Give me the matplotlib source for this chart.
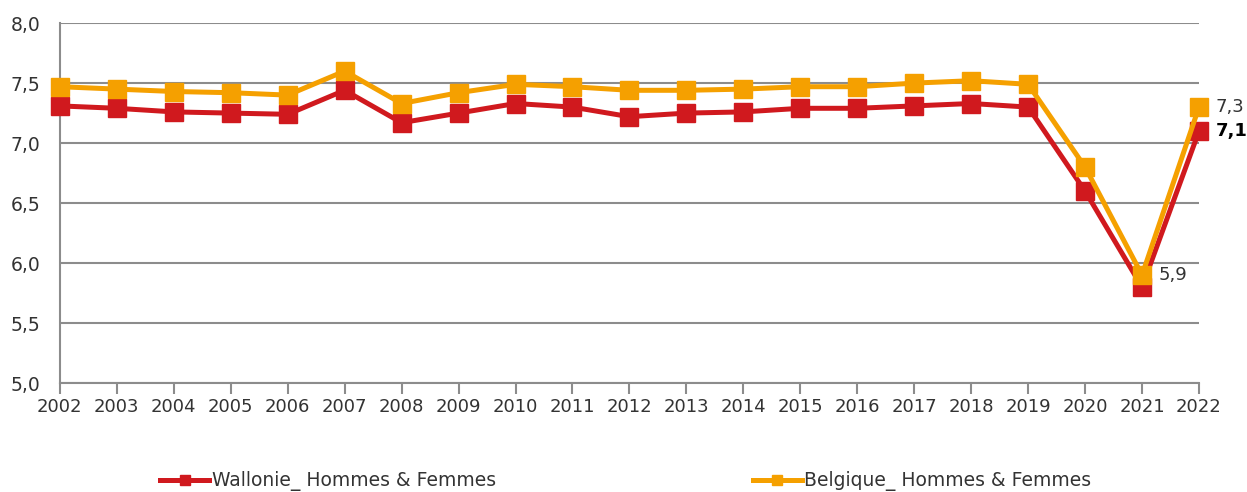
import matplotlib
matplotlib.use("Agg")
import matplotlib.pyplot as plt
from matplotlib.ticker import FuncFormatter

years = list(range(2002, 2023))
wallonie = [7.31, 7.29, 7.26, 7.25, 7.24, 7.44, 7.17, 7.25, 7.33, 7.30, 7.22,
            7.25, 7.26, 7.29, 7.29, 7.31, 7.33, 7.30, 6.60, 5.80, 7.10]
belgique = [7.47, 7.45, 7.43, 7.42, 7.40, 7.60, 7.33, 7.42, 7.49, 7.47, 7.44,
            7.44, 7.45, 7.47, 7.47, 7.50, 7.52, 7.49, 6.80, 5.90, 7.30]
series_labels = ["Wallonie_ Hommes & Femmes", "Belgique_ Hommes & Femmes"]

red = "#D0191E"
orange = "#F5A000"
grid = "#8C8C8C"
txt = "#333333"

plt.rcParams['font.family'] = ['DejaVu Sans']

fig = plt.figure(figsize=(12.47, 4.92), dpi=100)
ax = fig.add_axes([0.048, 0.2215, 0.9135, 0.7315])

ax.plot(years, wallonie, color=red, lw=3.6, marker='s', ms=12.5, clip_on=False,
        label=series_labels[0], zorder=3)
ax.plot(years, belgique, color=orange, lw=3.6, marker='s', ms=12.5, clip_on=False,
        label=series_labels[1], zorder=4)

ax.set_xlim(2002, 2022)
ax.set_ylim(5.0, 8.0)
ax.set_yticks([5.0, 5.5, 6.0, 6.5, 7.0, 7.5, 8.0])
ax.set_xticks(years)
ax.yaxis.set_major_formatter(FuncFormatter(lambda v, p: f"{v:.1f}".replace('.', ',')))
ax.grid(axis='y', color=grid, lw=1.5)
ax.set_axisbelow(True)
for s in ['top', 'right']:
    ax.spines[s].set_visible(False)
for s in ['left', 'bottom']:
    ax.spines[s].set_color(grid)
    ax.spines[s].set_linewidth(1.5)
ax.tick_params(axis='x', length=8, color=grid, width=1.5, labelsize=13, labelcolor=txt, pad=3)
ax.tick_params(axis='y', length=0, labelsize=13.5, labelcolor=txt, pad=14)

ax.annotate("7,3", (years[-1], belgique[-1]), xytext=(12, 0), textcoords='offset points',
            va='center', ha='left', fontsize=13, color=txt, annotation_clip=False)
ax.annotate("7,1", (years[-1], wallonie[-1]), xytext=(12, 0), textcoords='offset points',
            va='center', ha='left', fontsize=13, color='black', fontweight='bold',
            annotation_clip=False)
ax.annotate("5,9", (years[-2], belgique[-2]), xytext=(12, 0), textcoords='offset points',
            va='center', ha='left', fontsize=13, color=txt, annotation_clip=False)

leg = fig.legend(loc='center', bbox_to_anchor=(0.502, 0.022), ncol=2, frameon=False,
                 fontsize=13.5, columnspacing=13.7, handlelength=2.6, handletextpad=0.15,
                 markerscale=0.6, labelcolor=txt)

fig.savefig("out.png", dpi=100)
